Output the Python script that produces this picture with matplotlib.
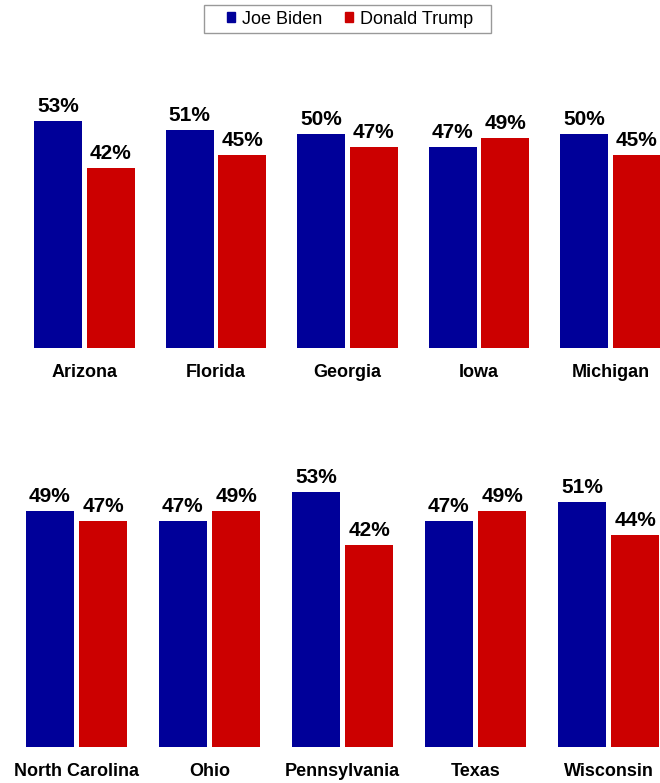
import matplotlib
matplotlib.use("Agg")
import matplotlib.pyplot as plt
from matplotlib.patches import Patch, Rectangle
import numpy as np

plt.rcParams['font.family'] = ['Liberation Sans', 'DejaVu Sans']

states_top = ["Arizona", "Florida", "Georgia", "Iowa", "Michigan"]
biden_top = [53, 51, 50, 47, 50]
trump_top = [42, 45, 47, 49, 45]

states_bottom = ["North Carolina", "Ohio", "Pennsylvania", "Texas", "Wisconsin"]
biden_bottom = [49, 47, 53, 47, 51]
trump_bottom = [47, 49, 42, 49, 44]

BLUE = "#000099"
RED = "#CC0000"

W, H = 660, 783
fig = plt.figure(figsize=(W / 100, H / 100), dpi=100)


def draw_row(ax, states, biden, trump, xlim):
    x = np.arange(len(states))
    w = 0.365
    off = 0.2
    b1 = ax.bar(x - off, biden, w, color=BLUE)
    b2 = ax.bar(x + off, trump, w, color=RED)
    for bars, vals in ((b1, biden), (b2, trump)):
        for rect, v in zip(bars, vals):
            ax.annotate(f"{v}%", (rect.get_x() + rect.get_width() / 2, v),
                        xytext=(0, 6.5), textcoords="offset points",
                        ha="center", va="baseline", fontsize=15,
                        fontweight="bold")
    ax.set_xlim(*xlim)
    ax.set_ylim(0, 60)
    ax.set_xticks(x)
    ax.set_xticklabels(states, fontsize=13, fontweight="bold")
    ax.tick_params(axis="x", length=0, pad=11.5)
    ax.set_yticks([])
    for s in ax.spines.values():
        s.set_visible(False)


ax1 = fig.add_axes([0, 1 - 348 / H, 1, 257 / H])
draw_row(ax1, states_top, biden_top, trump_top,
         (-84.5 / 131.5, (660 - 84.5) / 131.5))

ax2 = fig.add_axes([0, 1 - 747 / H, 1, 288.6 / H])
draw_row(ax2, states_bottom, biden_bottom, trump_bottom,
         (-76.5 / 133, (660 - 76.5) / 133))

# legend frame drawn separately so the padding can be wider than tall
fig.patches.append(Rectangle((204 / W, 1 - 33 / H), 287 / W, 28 / H,
                             transform=fig.transFigure, facecolor="white",
                             edgecolor="#999999", linewidth=1.0, zorder=0))
handles = [Patch(color=BLUE, label="Joe Biden"),
           Patch(color=RED, label="Donald Trump")]
fig.legend(handles=handles, loc="center", bbox_to_anchor=(350 / W, 1 - 19 / H),
           ncol=2, fontsize=13, frameon=False, handlelength=0.45,
           handleheight=0.45, handletextpad=0.4, columnspacing=1.25,
           borderpad=0, borderaxespad=0)

fig.savefig("out.png", dpi=100)
